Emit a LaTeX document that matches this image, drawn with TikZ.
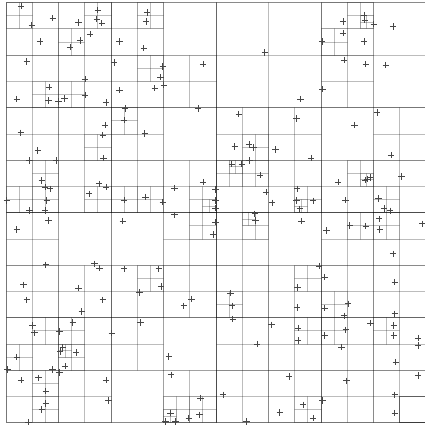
\documentclass[tikz,border=0pt]{standalone}
\begin{document}
\begin{tikzpicture}[x=1pt,y=-1pt,
  qtline/.style={draw=black,draw opacity=0.14,line width=0.9pt},
  ptmark/.style={draw=black!72,line width=0.7pt}]
\useasboundingbox (0,0) rectangle (425,425);
\clip (0,0) rectangle (425,425);
\def\QTpop{\expandafter\QTpopaux\QTstr\relax}
\def\QTpopaux#1#2\relax{\gdef\QTch{#1}\gdef\QTstr{#2}}
\def\QTnode#1#2#3{%
  \draw[qtline] (#1,#2) rectangle ++(#3,#3);%
  \QTpop
  \if S\QTch
    \pgfmathsetmacro\QTh{#3/2}%
    \pgfmathsetmacro\QTx{#1+\QTh}%
    \pgfmathsetmacro\QTy{#2+\QTh}%
    \edef\QTnext{\noexpand\QTnode{#1}{#2}{\QTh}\noexpand\QTnode{\QTx}{#2}{\QTh}\noexpand\QTnode{#1}{\QTy}{\QTh}\noexpand\QTnode{\QTx}{\QTy}{\QTh}}%
    \QTnext
  \fi}
\def\QTblock#1#2#3{\gdef\QTstr{#3}\QTnode{#1}{#2}{105}}
% root and level 1
\draw[qtline] (6,2.7) rectangle ++(420,420);
\draw[qtline] (6,2.7) rectangle ++(210,210);
\draw[qtline] (216,2.7) rectangle ++(210,210);
\draw[qtline] (6,212.7) rectangle ++(210,210);
\draw[qtline] (216,212.7) rectangle ++(210,210);
% level 2 blocks
\QTblock{6}{2.7}{SSSLLLLLLLSLSLLLLSLLLLLSLLLSLLLLSLLSLLLLL}
\QTblock{111}{2.7}{SSLSLLLLLLLSLSLLLLLLSLLLL}
\QTblock{216}{2.7}{SLLLL}
\QTblock{321}{2.7}{SSLSLLLSLLLLSLLLLLLSLLLLL}
\QTblock{6}{107.7}{SSLLLLSLLLSLLLLSLSLLLLSLLLLSLLLLSLLLSLLLL}
\QTblock{111}{107.7}{SSSLLLLLLLLSLLSLLLLSLLLLSLLLSLLLSLLLL}
\QTblock{216}{107.7}{SSLLLSLLLLSLLLLSSLSLLLLLLSLLLLLLSLLLSLLSLLLLL}
\QTblock{321}{107.7}{SLSLLLLSLSLLLSLLLLLLSLLSLLLLL}
\QTblock{6}{212.7}{SSLLLLLSLLLLSLLLL}
\QTblock{111}{212.7}{SLSLSLLLLLLSLSLLLLLLSLLLL}
\QTblock{216}{212.7}{SSLSSLLLLLLLLLLSLLSLLLLLSLSLLLLLL}
\QTblock{321}{212.7}{SSLSLLLLLLSSLLLLLLLSLLSLLLLLSLLLL}
\QTblock{6}{317.7}{SSLSLLLLSLLLLLSSLLLLLSSLLLLLLLLSLSLLLLLSLLLLSLLLL}
\QTblock{111}{317.7}{SSLLLLLLSLLSLLSLLLLLSLLLL}
\QTblock{216}{317.7}{SSLLLLSLSLLLLLLSLLLLSLLLSLLLL}
\QTblock{321}{317.7}{SSSLLLLLLLSSLLLLLLLSLLLLSLLLL}
\draw[qtline,draw opacity=0.5] (399.75,396.5) rectangle ++(26.25,26.25);
% points
\foreach \px/\py in {21/6, 31.7/25, 52.7/18.3, 78.3/22.7, 97.7/10, 96.7/19.3, 101.7/23.3,
 40/41.7, 80/40.7, 70/47.3, 90/34.3, 119.3/41.7, 26.7/61.7, 114/62.7, 85/79.3,
 49/87.3, 48.3/100.7, 58.3/101.7, 64.3/98.7, 85/95, 106/102.7, 119.3/90, 16.7/99,
 147/12.7, 146/21.7, 143.7/48.3, 264.7/52.7, 162.7/66.7, 203/64, 160.3/77.3, 163.7/85, 154.7/88.3,
 343/21.7, 364/15, 364.7/20, 373.7/24, 393/26.7, 322/41.5, 343/33.3, 364/41.7, 344/60, 365.7/64.3,
 385.7/65, 322.3/89.3, 300.3/99,
 125/108.3, 124/120, 105/125, 20.7/132.7, 102.7/135, 144.7/133.3, 198/108.3, 238.7/114, 296.5/118.3,
 377/112.7, 354.5/125, 37.7/150.3, 103.3/158, 29.3/160.3, 56/160.3, 41.7/180.3, 99/183.7, 45/187,
 50/188.7, 106/187, 89/193.7, 6.7/200.3, 29.3/210.3, 46.7/200.3, 45/210.3, 124/200,
 234.8/146.5, 249/144.5, 253.5/147.3, 275.5/149.5, 231.7/164, 241.7/164, 249.3/160.5, 260/175,
 174.3/188, 203/182, 215.5/189.3, 215.3/200.3, 215.5/208, 145.3/197, 162.7/202, 266/192, 272/202.7,
 311/158, 391/155.2, 338/182.2, 365/180, 367.5/179, 370/177.5, 401.5/176.5, 297/188.7, 296.3/200.3,
 299.7/208.7, 313/200.7, 345.3/200.2, 378.3/198.3, 384/208.3, 390/210.7,
 48.3/220.3, 16.7/229.3, 122.7/221, 174.3/214.7, 215.3/222, 213/234.3, 254.7/213.7, 255.3/220.3,
 301.3/221, 326.3/230.3, 349.7/225.3, 365.7/226, 379/218.7, 379.7/229.3, 422.3/223.7, 393/253.7,
 45.7/264.7, 94.3/263.7, 99.3/268, 124/268.7, 158.7/268.7, 161/286.3, 23.3/284.7, 78.3/288,
 319/266, 324.7/277, 394.7/282, 297.3/287.3, 139.3/292.3,
 26.7/299.7, 81.7/311.3, 102.7/299.7, 183.7/305.7, 191.3/299, 230.3/293, 232/305.7, 297/307.3,
 324.7/308, 348/303.7, 344/315.7, 394.7/313.7,
 232.7/319, 271.3/324.7, 140.5/322.3, 111.7/333, 32.3/325.3, 34.3/332.8, 59.3/331.5, 72.7/322.5,
 298/328, 298/340.3, 324.7/335.3, 345.7/329.7, 370.3/323, 393.7/325.3, 393.7/335.3, 418/338, 418/345.5,
 16.7/357, 7.3/369.3, 60/351.5, 62.7/347.5, 76/352.5, 65/366.2, 52.3/369.3, 168.7/356.3, 257/344,
 341.3/347, 395.7/362, 59.3/372.5, 21/380.2, 38.3/377.7, 45.7/391, 106/380, 171/374.7, 223/394.7,
 289/376.3, 346.3/380.7, 418/375.3, 394.7/394.7,
 45.7/403.5, 41.7/409.5, 28.3/422, 108.3/400.3, 165.3/421.3, 170.3/413, 175.3/421.3, 200.3/398,
 199.3/414.7, 188.7/418, 246.3/421.3, 279.7/412.3, 303/404.7, 313/418, 322.3/400.3, 394.7/413}
  \draw[ptmark] (\px,\py) +(-3.2,0) -- +(3.2,0) +(0,-3.2) -- +(0,3.2);
\end{tikzpicture}
\end{document}
